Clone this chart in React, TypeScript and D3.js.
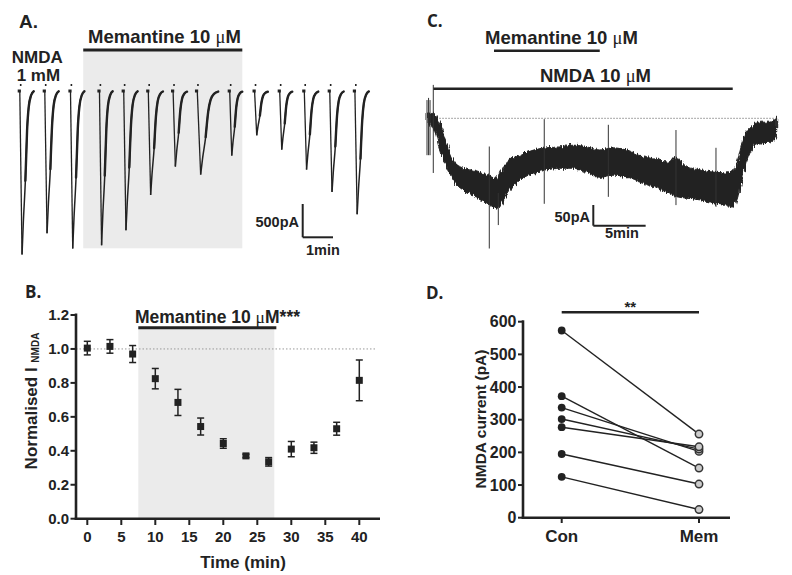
import React from 'react';
import * as d3 from 'd3';

// ---------- Panel A: evoked NMDA currents ----------
const sweepStartMin = [0, 0.825, 1.673, 2.63, 3.43, 4.24, 5.06, 5.85, 6.93, 7.75, 8.58, 9.39, 10.23, 11.06];
const sweepPeakPA = [2440, 2120, 2350, 2300, 2075, 1545, 1120, 1240, 955, 650, 865, 1165, 1500, 1835];
const sweepWidth = [1, 1, 1, 0.95, 1, 1.05, 1, 1.5, 0.9, 0.95, 0.9, 1, 1, 1];
const templateSec = [1, 5.4, 8, 12, 15.4, 18.6, 23.4, 28.6];
const templateFrac = [0, 1, 0.8, 0.546, 0.237, 0.093, 0.02, -0.005];
const memWindowA = [2.11, 7.36];

// ---------- Panel B: normalised current time course ----------
const bTime = [0, 3.33, 6.67, 10, 13.33, 16.67, 20, 23.33, 26.67, 30, 33.33, 36.67, 40];
const bMean = [1.005, 1.015, 0.97, 0.825, 0.685, 0.543, 0.443, 0.37, 0.335, 0.41, 0.418, 0.53, 0.815];
const bErr = [0.04, 0.04, 0.05, 0.06, 0.077, 0.05, 0.028, 0.01, 0.025, 0.045, 0.033, 0.038, 0.12];
const bYTicks = [0, 0.2, 0.4, 0.6, 0.8, 1.0, 1.2];
const bXTicks = [0, 5, 10, 15, 20, 25, 30, 35, 40];
const memWindowB = [7.5, 27.5];

// ---------- Panel C: bath NMDA current ----------
const cTime = [0, 0.3, 0.8, 1.2, 1.9, 2.5, 3.2, 4.1, 5.1, 6.0, 6.7, 7.3, 7.9, 8.9, 10.2, 11.4, 12.7, 14.0, 15.3, 16.5, 17.8, 19.1, 20.3, 21.6, 22.9, 23.9, 24.8, 26.1, 27.4, 28.6, 29.3, 29.6, 30.1, 30.5, 31.2, 31.8, 32.8, 33.4];
const cUpper = [12, 12, 8, -11, -57, -96, -112, -119, -126, -131, -138, -112, -96, -85, -73, -68, -66, -62, -66, -73, -68, -73, -85, -91, -101, -91, -112, -119, -124, -126, -119, -103, -57, -32, -15, -9, -9, 1];
const cLower = [-11, -15, -34, -73, -112, -142, -161, -172, -188, -200, -207, -188, -165, -142, -126, -119, -115, -115, -124, -136, -131, -135, -147, -158, -170, -181, -184, -188, -195, -200, -207, -188, -142, -103, -66, -57, -55, -45];
const spikeTime = [0, 0.15, 0.29, 0.6, 5.95, 6.81, 11.2, 17.32, 23.78, 27.6];
const spikeTop = [42, 47, 42, 77, -65, -172, -2, -15, -27, -68];
const spikeBottom = [-85, -85, -85, -126, -300, -246, -197, -181, -200, -204];
const memWindowC = [6.4, 16.5];
const nmdaWindowC = [0.6, 29.2];

// ---------- Panel D: paired currents ----------
const dGroups = ['Con', 'Mem'];
const dCon = [573, 372, 337, 302, 277, 195, 125];
const dMem = [256, 152, 203, 210, 217, 103, 25];
const dYTicks = [0, 100, 200, 300, 400, 500, 600];

const INK = '#222';
const SANS = '"Liberation Sans", Arial, sans-serif';
const LETTER = '"Open Sans", "Liberation Sans", sans-serif';
const SHADE = '#ebebeb';

const Mu = () => (
  <tspan fontFamily='"Liberation Serif", serif' fontWeight="normal">μ</tspan>
);

function PanelA() {
  const xA = d3.scaleLinear().domain([0, 1]).range([19.3, 49.6]);
  const yA = d3.scaleLinear().domain([0, 500]).range([92, 125.3]);
  const curve = d3.line<[number, number]>().x(d => d[0]).y(d => d[1]).curve(d3.curveMonotoneX);
  return (
    <g>
      <rect x={xA(memWindowA[0])} y={51} width={xA(memWindowA[1]) - xA(memWindowA[0])} height={248.3 - 51} fill={SHADE} />
      <text x={19} y={28} fontFamily={SANS} fontWeight="bold" fontSize={19} fill={INK}>A.</text>
      <text x={88} y={43} fontFamily={SANS} fontWeight="bold" fontSize={18.5} fill={INK}>Memantine 10 <Mu />M</text>
      <line x1={xA(memWindowA[0])} x2={xA(memWindowA[1])} y1={50} y2={50} stroke={INK} strokeWidth={3} />
      <text x={11.7} y={63} fontFamily={SANS} fontWeight="bold" fontSize={17} fill={INK}>NMDA</text>
      <text x={16.7} y={81} fontFamily={SANS} fontWeight="bold" fontSize={17} fill={INK}>1 mM</text>
      {sweepStartMin.map((t0, i) => {
        const amp = sweepPeakPA[i];
        const w = sweepWidth[i];
        const pts: [number, number][] = templateSec.map((s, k) => [
          xA(t0 + (s * w) / 60),
          yA(templateFrac[k] * amp),
        ]);
        const x0 = xA(t0);
        return (
          <g key={i}>
            <rect x={x0 - 1.6} y={89.5} width={3.2} height={3} fill={INK} />
            <rect x={x0 + 0.6} y={84} width={1.6} height={2} fill={INK} />
            <line x1={pts[0][0]} y1={pts[0][1]} x2={pts[1][0]} y2={pts[1][1]} stroke={INK} strokeWidth={1.3} />
            <path d={curve(pts.slice(1)) || ''} fill="none" stroke={INK} strokeWidth={1.5} />
            <path d={curve(pts.slice(3)) || ''} fill="none" stroke={INK} strokeWidth={2.4} strokeLinecap="round" />
          </g>
        );
      })}
      <line x1={302.7} x2={302.7} y1={204} y2={237.3} stroke={INK} strokeWidth={2} />
      <line x1={302.7} x2={xA(xA.invert(302.7) + 1)} y1={237.3} y2={237.3} stroke={INK} strokeWidth={2} />
      <text x={299} y={226.5} textAnchor="end" fontFamily={SANS} fontWeight="bold" fontSize={14.5} fill={INK}>500pA</text>
      <text x={306} y={255} fontFamily={SANS} fontWeight="bold" fontSize={14.5} fill={INK}>1min</text>
    </g>
  );
}

function PanelB() {
  const xB = d3.scaleLinear().domain([0, 40]).range([87.3, 359.3]);
  const yB = d3.scaleLinear().domain([0, 1.2]).range([518.7, 315]);
  const barY = yB(1.125);
  return (
    <g>
      <rect x={xB(memWindowB[0])} y={barY} width={xB(memWindowB[1]) - xB(memWindowB[0])} height={yB(0) - barY} fill={SHADE} />
      <line x1={76} x2={375} y1={yB(1)} y2={yB(1)} stroke="#999" strokeWidth={1} strokeDasharray="1.5 2" />
      <line x1={xB(memWindowB[0])} x2={xB(27.8)} y1={barY} y2={barY} stroke={INK} strokeWidth={3} />
      <text x={135} y={323} fontFamily={SANS} fontWeight="bold" fontSize={17.5} fill={INK}>Memantine 10 <Mu />M***</text>
      <text x={25} y={298} fontFamily={LETTER} fontWeight="bold" fontSize={17} fill={INK}>B.</text>
      <line x1={76} x2={76} y1={313.5} y2={520} stroke={INK} strokeWidth={2.6} />
      <line x1={74.7} x2={380} y1={yB(0)} y2={yB(0)} stroke={INK} strokeWidth={2.6} />
      {bYTicks.map(v => (
        <g key={v}>
          <line x1={70.5} x2={76} y1={yB(v)} y2={yB(v)} stroke={INK} strokeWidth={2} />
          <text x={69} y={yB(v) + 5.3} textAnchor="end" fontFamily={SANS} fontWeight="bold" fontSize={15} fill={INK}>{v.toFixed(1)}</text>
        </g>
      ))}
      {bXTicks.map(v => (
        <g key={v}>
          <line x1={xB(v)} x2={xB(v)} y1={yB(0)} y2={525} stroke={INK} strokeWidth={2} />
          <text x={xB(v)} y={541.5} textAnchor="middle" fontFamily={SANS} fontWeight="bold" fontSize={15} fill={INK}>{v}</text>
        </g>
      ))}
      <text x={243} y={568} textAnchor="middle" fontFamily={SANS} fontWeight="bold" fontSize={17} fill={INK}>Time (min)</text>
      <text transform="translate(36.7,401) rotate(-90)" textAnchor="middle" fontFamily={SANS} fontWeight="bold" fontSize={17} fill={INK}>
        Normalised I <tspan fontSize={10} dy={2.5}>NMDA</tspan>
      </text>
      {bTime.map((t, i) => (
        <g key={i}>
          <line x1={xB(t)} x2={xB(t)} y1={yB(bMean[i] - bErr[i])} y2={yB(bMean[i] + bErr[i])} stroke={INK} strokeWidth={1.5} />
          <line x1={xB(t) - 3.5} x2={xB(t) + 3.5} y1={yB(bMean[i] - bErr[i])} y2={yB(bMean[i] - bErr[i])} stroke={INK} strokeWidth={1.5} />
          <line x1={xB(t) - 3.5} x2={xB(t) + 3.5} y1={yB(bMean[i] + bErr[i])} y2={yB(bMean[i] + bErr[i])} stroke={INK} strokeWidth={1.5} />
          <rect x={xB(t) - 3.5} y={yB(bMean[i]) - 3.5} width={7} height={7} fill={INK} />
        </g>
      ))}
    </g>
  );
}

function PanelC() {
  const xC = d3.scaleLinear().domain([0, 5]).range([427, 479.35]);
  const yC = d3.scaleLinear().domain([0, -50]).range([118.3, 140]);
  const area = d3
    .area<number>()
    .x((_, i) => xC(cTime[i]))
    .y0((_, i) => yC(cLower[i]))
    .y1((_, i) => yC(cUpper[i]))
    .curve(d3.curveMonotoneX);
  return (
    <g>
      <defs>
        <filter id="traceNoise" x="-5%" y="-30%" width="110%" height="160%">
          <feTurbulence type="fractalNoise" baseFrequency="0.9 0.06" numOctaves={2} seed={4} result="turb" />
          <feDisplacementMap in="SourceGraphic" in2="turb" scale={6} xChannelSelector="B" yChannelSelector="G" />
        </filter>
      </defs>
      <text x={427} y={26.7} fontFamily={LETTER} fontWeight="bold" fontSize={17} fill={INK}>C.</text>
      <text x={485} y={44} fontFamily={SANS} fontWeight="bold" fontSize={18.5} fill={INK}>Memantine 10 <Mu />M</text>
      <line x1={xC(memWindowC[0])} x2={xC(memWindowC[1])} y1={50.7} y2={50.7} stroke={INK} strokeWidth={2.5} />
      <text x={595.5} y={82} textAnchor="middle" fontFamily={SANS} fontWeight="bold" fontSize={18.5} fill={INK}>NMDA 10 <Mu />M</text>
      <line x1={xC(nmdaWindowC[0])} x2={xC(nmdaWindowC[1])} y1={88.7} y2={88.7} stroke={INK} strokeWidth={2.5} />
      <line x1={xC(nmdaWindowC[0])} x2={777} y1={yC(0)} y2={yC(0)} stroke="#888" strokeWidth={1} strokeDasharray="1.5 1.5" />
      <path d={area(cTime) || ''} fill={INK} stroke={INK} strokeWidth={1} filter="url(#traceNoise)" />
      {spikeTime.map((t, i) => (
        <line key={i} x1={xC(t)} x2={xC(t)} y1={yC(spikeTop[i])} y2={yC(spikeBottom[i])} stroke="#333" strokeWidth={1} />
      ))}
      <line x1={593.3} x2={593.3} y1={205} y2={225.7} stroke={INK} strokeWidth={2} />
      <line x1={593.3} x2={xC(xC.invert(593.3) + 5)} y1={225.7} y2={225.7} stroke={INK} strokeWidth={2} />
      <text x={590} y={221.5} textAnchor="end" fontFamily={SANS} fontWeight="bold" fontSize={14.5} fill={INK}>50pA</text>
      <text x={605} y={238.3} fontFamily={SANS} fontWeight="bold" fontSize={14.5} fill={INK}>5min</text>
    </g>
  );
}

function PanelD() {
  const yD = d3.scaleLinear().domain([0, 600]).range([517.7, 321.7]);
  const xD = d3.scalePoint<string>().domain(dGroups).range([561.7, 699]);
  const xc = xD('Con') as number;
  const xm = xD('Mem') as number;
  return (
    <g>
      <text x={426} y={299} fontFamily={LETTER} fontWeight="bold" fontSize={17} fill={INK}>D.</text>
      <line x1={xc} x2={xm} y1={yD(629)} y2={yD(629)} stroke={INK} strokeWidth={2.5} />
      <text x={(xc + xm) / 2} y={312} textAnchor="middle" fontFamily={SANS} fontWeight="bold" fontSize={15} fill={INK}>**</text>
      <line x1={523} x2={523} y1={320.3} y2={519} stroke={INK} strokeWidth={2.6} />
      <line x1={521.7} x2={730} y1={yD(0)} y2={yD(0)} stroke={INK} strokeWidth={2.6} />
      {dYTicks.map(v => (
        <g key={v}>
          <line x1={518} x2={523} y1={yD(v)} y2={yD(v)} stroke={INK} strokeWidth={2} />
          <text x={516.5} y={yD(v) + 5.5} textAnchor="end" fontFamily={SANS} fontWeight="bold" fontSize={16} fill={INK}>{v}</text>
        </g>
      ))}
      {dGroups.map(g => (
        <g key={g}>
          <line x1={xD(g)} x2={xD(g)} y1={yD(0)} y2={523} stroke={INK} strokeWidth={2} />
          <text x={xD(g)} y={541.7} textAnchor="middle" fontFamily={SANS} fontWeight="bold" fontSize={17} fill={INK}>{g}</text>
        </g>
      ))}
      <text transform="translate(485.5,419) rotate(-90)" textAnchor="middle" fontFamily={SANS} fontWeight="bold" fontSize={15.5} fill={INK}>NMDA current (pA)</text>
      {dCon.map((c, i) => (
        <line key={'l' + i} x1={xc} x2={xm} y1={yD(c)} y2={yD(dMem[i])} stroke={INK} strokeWidth={1.4} />
      ))}
      {dCon.map((c, i) => (
        <circle key={'c' + i} cx={xc} cy={yD(c)} r={3.9} fill={INK} />
      ))}
      {dMem.map((m, i) => (
        <circle key={'m' + i} cx={xm} cy={yD(m)} r={3.7} fill="#ccc" stroke="#333" strokeWidth={1.5} />
      ))}
    </g>
  );
}

export default function App() {
  return (
    <svg
      width={792}
      height={575}
      viewBox="0 0 792 575"
      style={{ position: 'absolute', left: 0, top: 0, background: '#fff' }}
    >
      <rect x={0} y={0} width={792} height={575} fill="#fff" />
      <PanelA />
      <PanelB />
      <PanelC />
      <PanelD />
    </svg>
  );
}
